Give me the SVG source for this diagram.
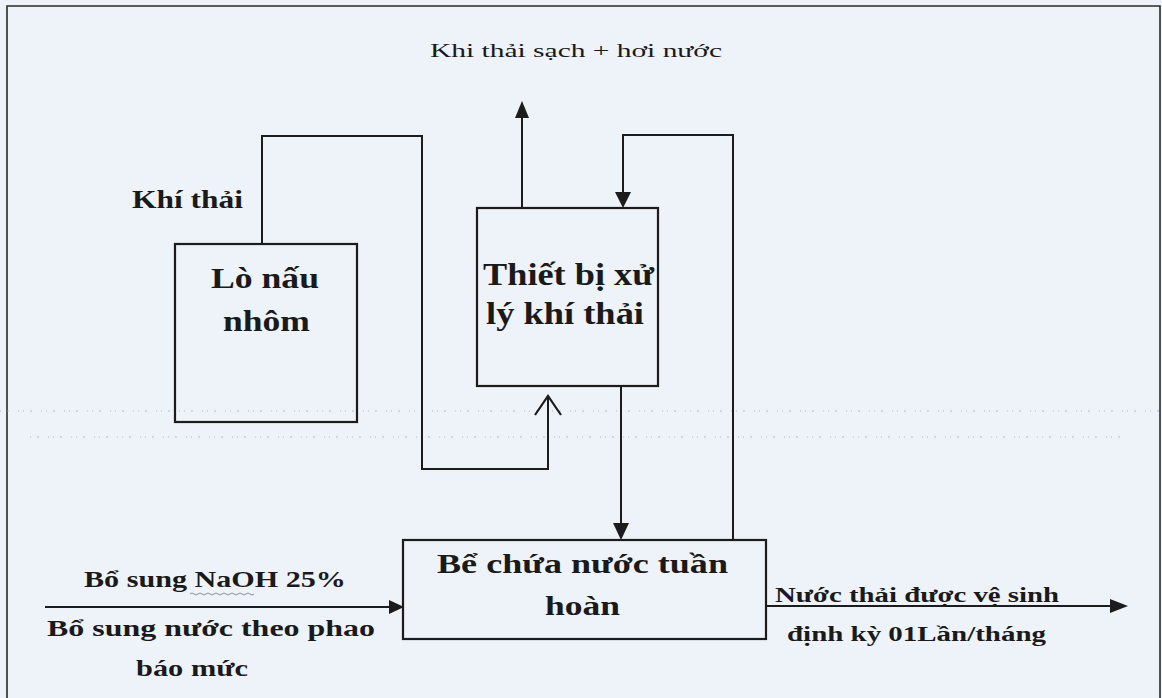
<svg xmlns="http://www.w3.org/2000/svg" width="1162" height="698" viewBox="0 0 1162 698">
  <style>
    .frame { fill: none; stroke: #2a2a2a; stroke-width: 1.6; }
    .box { fill: none; stroke: #1c1c1c; stroke-width: 2.2; }
    .wire { fill: none; stroke: #1c1c1c; stroke-width: 2; }
    .head { fill: #1c1c1c; stroke: none; }
    .open { fill: none; stroke: #1c1c1c; stroke-width: 2.2; }
    .lbl { font-family: "Liberation Serif", "Times New Roman", serif; font-weight: bold; fill: #1a1a1a; }
    .plain { font-family: "Liberation Serif", "Times New Roman", serif; fill: #1a1a1a; }
    .scan { fill: none; stroke: #9aa0a8; stroke-width: 1.2; stroke-dasharray: 1 6 2 9 1 4; opacity: 0.7; }
  </style>

  <!-- paper -->
  <rect x="0" y="0" width="1162" height="698" fill="#eef2f9"/>
  <path class="frame" d="M7,700 V6 H1160 V700"/>

  <!-- faint scan specks -->
  <path class="scan" d="M0,411 H1162"/>
  <path class="scan" d="M30,437 H1120" opacity="0.4"/>

  <!-- connectors -->
  <g id="connectors">
    <!-- furnace exhaust to treatment unit (bottom inlet) -->
    <path class="wire" d="M262,244 V136 H422 V469 H548 V397"/>
    <path class="open" d="M535,415 L548,396 L561,415"/>

    <!-- clean gas out the top -->
    <path class="wire" d="M522,208 V116"/>
    <path class="head" d="M522,101 L529,118 L515,118 Z"/>

    <!-- recirculated water back to the top of the unit -->
    <path class="wire" d="M733,540 V135 H623 V194"/>
    <path class="head" d="M623,208 L615,192 L631,192 Z"/>

    <!-- unit drain to the tank -->
    <path class="wire" d="M621,386 V526"/>
    <path class="head" d="M621,540 L613,523 L629,523 Z"/>

    <!-- make-up feed into the tank -->
    <path class="wire" d="M45,607 H392"/>
    <path class="head" d="M404,607 L389,600 L389,614 Z"/>

    <!-- periodic discharge -->
    <path class="wire" d="M766,606 H1112"/>
    <path class="head" d="M1128,606 L1110,599 L1110,613 Z"/>
  </g>

  <!-- top outlet label -->
  <g id="clean-gas">
    <text class="plain" x="430" y="57" font-size="18" textLength="292" lengthAdjust="spacingAndGlyphs">Khi thải sạch + hơi nước</text>
  </g>

  <g id="exhaust-label">
    <text class="lbl" x="132" y="208" font-size="26" textLength="111" lengthAdjust="spacingAndGlyphs">Khí thải</text>
  </g>

  <g id="furnace">
    <rect class="box" x="175" y="244" width="182" height="178"/>
    <text class="lbl" x="211" y="288" font-size="30" textLength="108" lengthAdjust="spacingAndGlyphs">Lò nấu</text>
    <text class="lbl" x="223" y="331" font-size="30" textLength="87" lengthAdjust="spacingAndGlyphs">nhôm</text>
  </g>

  <g id="treatment-unit">
    <rect class="box" x="477" y="208" width="181" height="178"/>
    <text class="lbl" x="483" y="285" font-size="31" textLength="171" lengthAdjust="spacingAndGlyphs">Thiết bị xử</text>
    <text class="lbl" x="486" y="324" font-size="31" textLength="158" lengthAdjust="spacingAndGlyphs">lý khí thải</text>
  </g>

  <g id="tank">
    <rect class="box" x="403" y="540" width="363" height="99"/>
    <text class="lbl" x="437" y="573" font-size="28" textLength="291" lengthAdjust="spacingAndGlyphs">Bể chứa nước tuần</text>
    <text class="lbl" x="545" y="615" font-size="28" textLength="75" lengthAdjust="spacingAndGlyphs">hoàn</text>
  </g>

  <g id="feed-labels">
    <text class="lbl" x="84" y="587" font-size="24" textLength="262" lengthAdjust="spacingAndGlyphs">Bổ sung NaOH 25%</text>
    <path d="M190,594 q2,-2 4,0 t4,0 t4,0 t4,0 t4,0 t4,0 t4,0 t4,0 t4,0 t4,0 t4,0 t4,0 t4,0 t4,0 t4,0 t4,0" fill="none" stroke="#8a8f9a" stroke-width="1"/>
    <text class="lbl" x="47" y="636" font-size="24" textLength="328" lengthAdjust="spacingAndGlyphs">Bổ sung nước theo phao</text>
    <text class="lbl" x="136" y="676" font-size="24" textLength="112" lengthAdjust="spacingAndGlyphs">báo mức</text>
  </g>

  <g id="discharge-labels">
    <text class="lbl" x="775" y="602" font-size="20" textLength="284" lengthAdjust="spacingAndGlyphs">Nước thải được vệ sinh</text>
    <text class="lbl" x="787" y="641" font-size="20" textLength="259" lengthAdjust="spacingAndGlyphs">định kỳ 01Lần/tháng</text>
  </g>
</svg>
